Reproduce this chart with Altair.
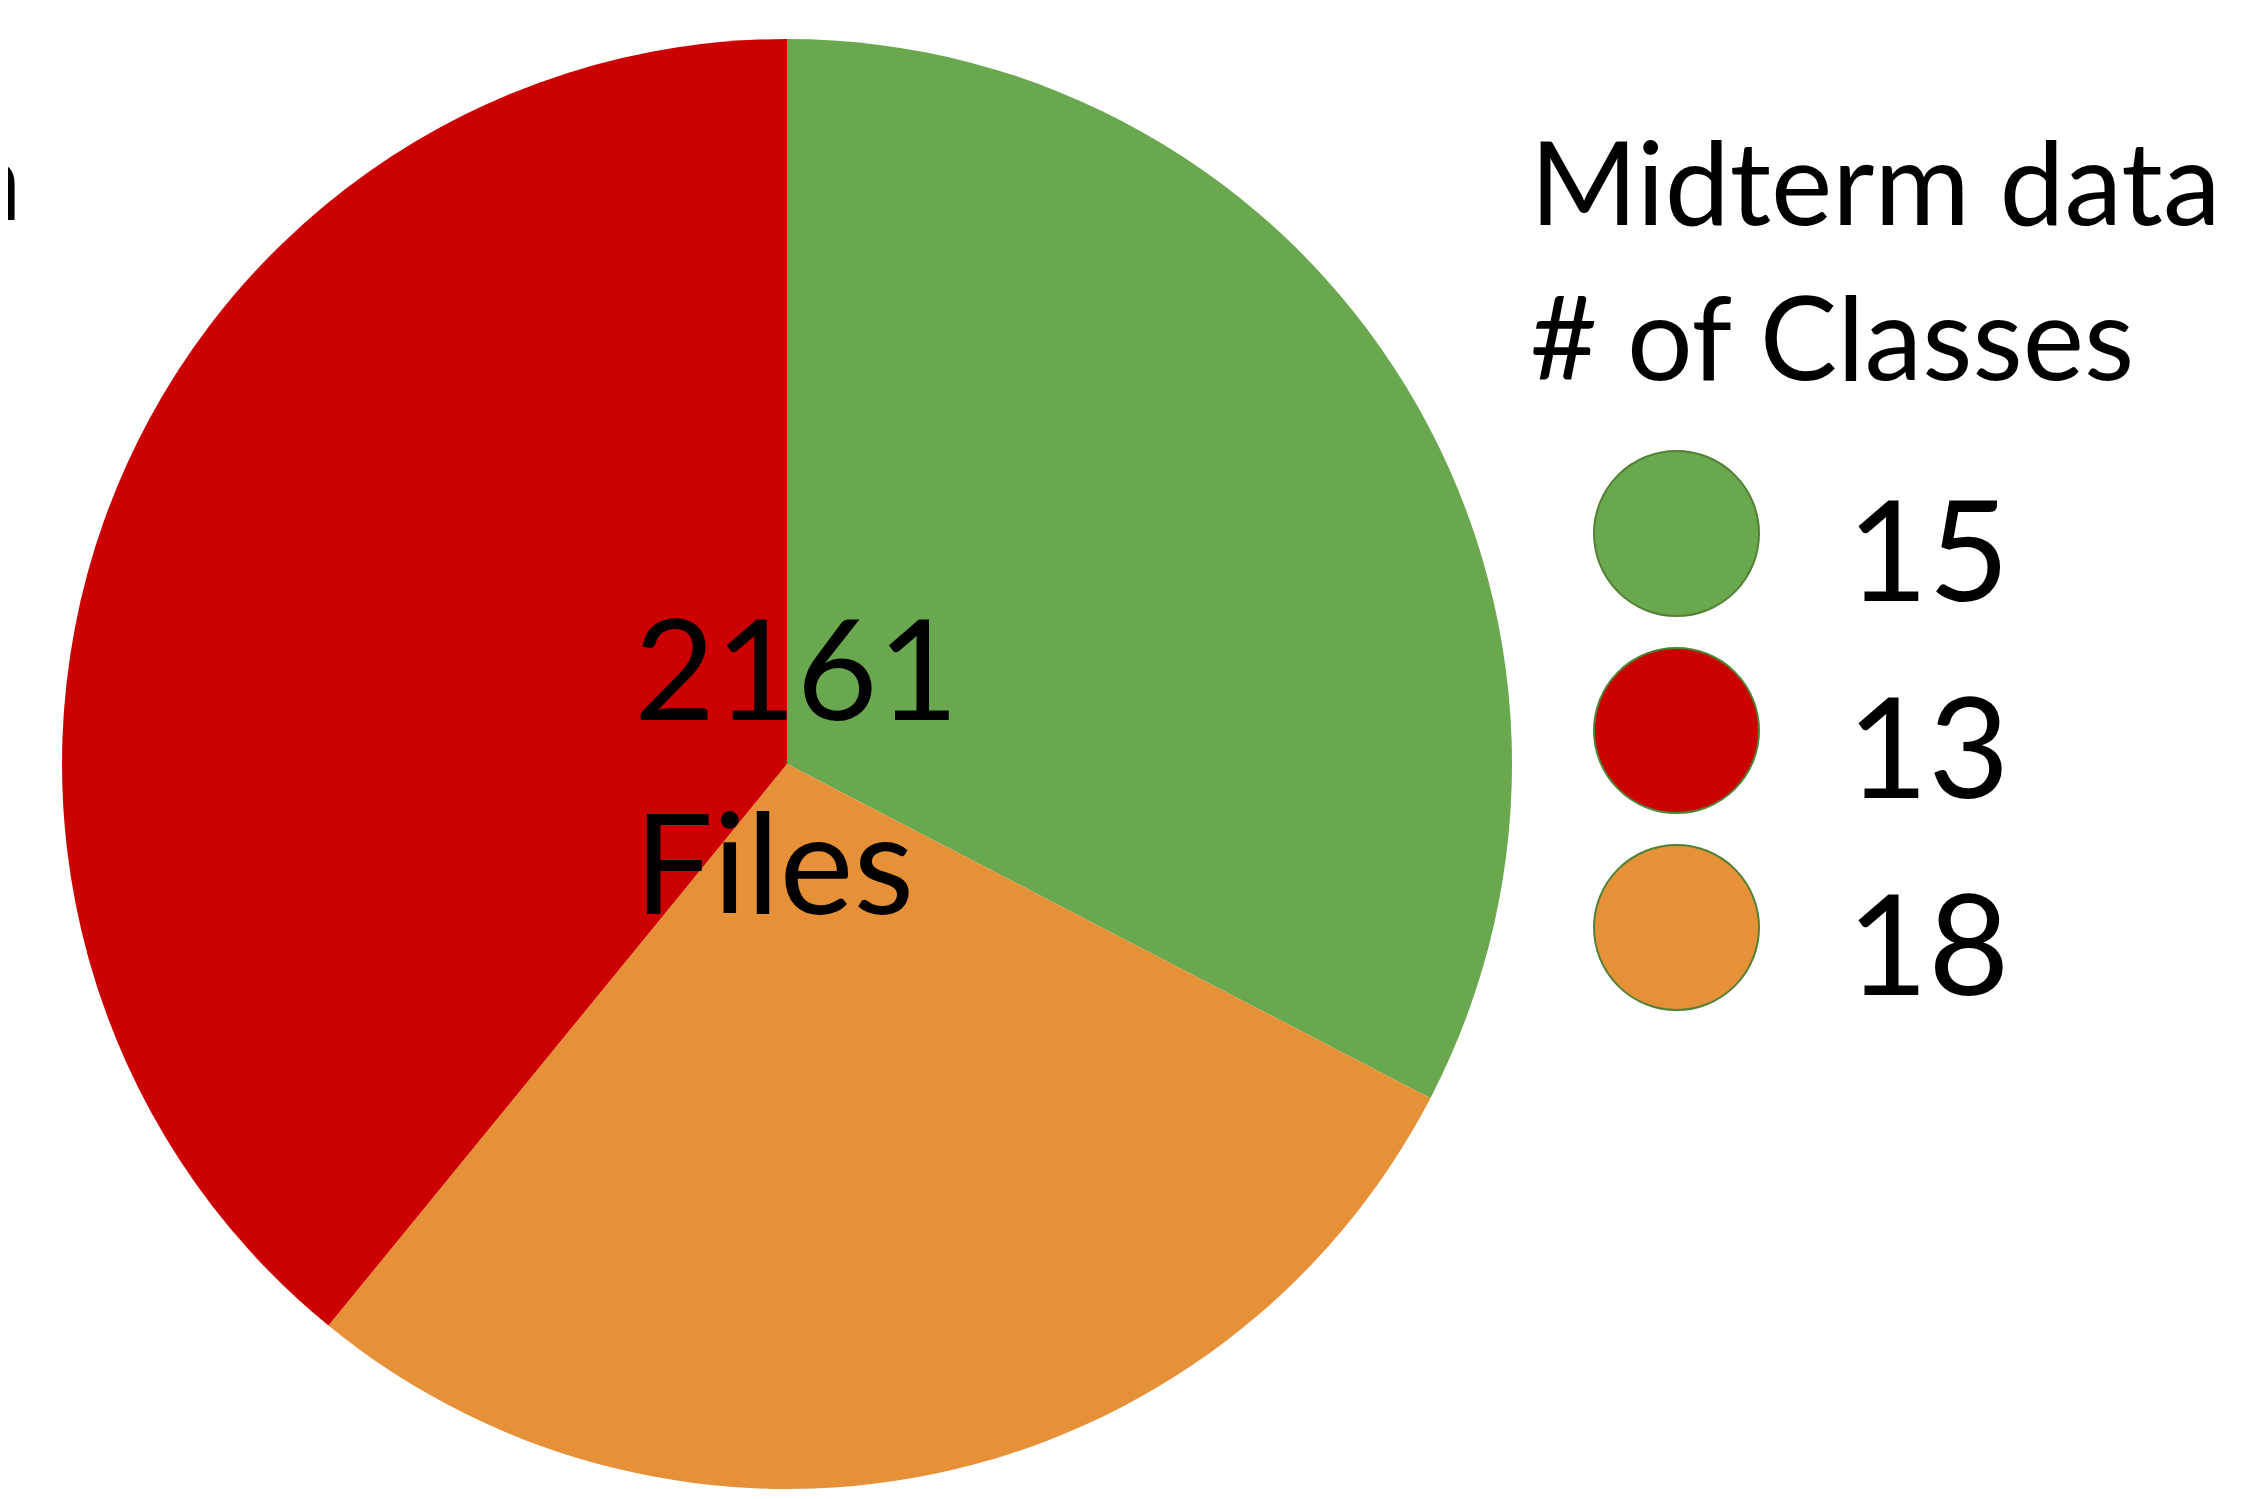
import altair as alt
import pandas as pd

# Pie slices, clockwise from 12 o'clock
classes = ["15", "18", "13"]
files = [705, 611, 845]
slice_order = [0, 1, 2]

# Legend order and colours
legend_order = ["15", "13", "18"]
legend_colors = ["#6AA84F", "#CC0000", "#E69138"]
legend_title = ["Midterm data", "# of Classes"]

total_files = 2161
center_lines = [str(total_files), "Files"]
left_cut_text = "data"

FONT = "Lato"

df = pd.DataFrame({"classes": classes, "files": files, "order": slice_order})

pie = alt.Chart(df).mark_arc(outerRadius=725).encode(
    theta=alt.Theta("files:Q", stack=True),
    order=alt.Order("order:Q"),
    x=alt.value(779),
    y=alt.value(756),
    color=alt.Color(
        "classes:N",
        scale=alt.Scale(domain=legend_order, range=legend_colors),
        legend=alt.Legend(
            title=legend_title,
            orient="none",
            legendX=1522,
            legendY=125,
            padding=0,
            titleFont=FONT,
            titleFontSize=116,
            titleFontWeight="normal",
            titleLineHeight=155,
            titleColor="black",
            titleLimit=1200,
            titlePadding=46,
            labelFont=FONT,
            labelFontSize=140,
            labelColor="black",
            labelOffset=87,
            labelLimit=600,
            symbolType="circle",
            symbolSize=27225,
            symbolStrokeColor="#538135",
            symbolStrokeWidth=2,
            symbolOpacity=1,
            symbolOffset=63,
            rowPadding=15,
        ),
    ),
)

center = alt.Chart(alt.Data(values=[{}])).mark_text(
    text=center_lines,
    font=FONT,
    fontSize=140,
    lineHeight=194,
    align="left",
    baseline="alphabetic",
    color="black",
).encode(x=alt.value(626), y=alt.value(712))

left = alt.Chart(alt.Data(values=[{}])).mark_text(
    text=left_cut_text,
    font=FONT,
    fontSize=113,
    align="right",
    baseline="alphabetic",
    color="black",
).encode(x=alt.value(14), y=alt.value(212))

chart = alt.layer(pie, center, left).properties(
    width=2251,
    height=1483,
    padding=0,
    autosize=alt.AutoSizeParams(type="none"),
).configure(
    style={"guide-label": {"dy": 25}},
    view=alt.ViewConfig(strokeWidth=0),
)

chart.save("out.html", embed_options={"renderer": "svg", "actions": False})
